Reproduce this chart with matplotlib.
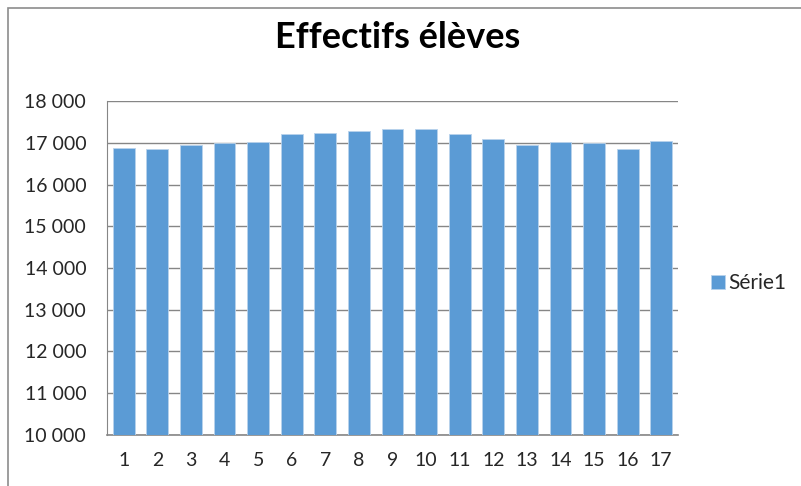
import matplotlib.pyplot as plt
from matplotlib.patches import Rectangle
from matplotlib.ticker import FuncFormatter

categories = [str(i) for i in range(1, 18)]
serie1 = [16880, 16860, 16950, 17000, 17030, 17220, 17245, 17290, 17340,
          17340, 17220, 17080, 16950, 17030, 17000, 16860, 17055]
y_ticks = [10000, 11000, 12000, 13000, 14000, 15000, 16000, 17000, 18000]

bar_color = "#5b9bd5"
grid_color = "#868686"
text_color = "#262626"
font = ["Lato", "DejaVu Sans"]

fig = plt.figure(figsize=(8.01, 4.86), dpi=100)
ax = fig.add_axes([0.1336, 0.105, 0.7128, 0.687])

x = list(range(len(categories)))
ax.bar(x, serie1, width=0.65, color=bar_color, edgecolor="#b8d2ec",
       linewidth=0.6, label="Série1", zorder=3)

ax.set_ylim(y_ticks[0], y_ticks[-1])
ax.set_xlim(-0.5, len(categories) - 0.5)
ax.set_yticks(y_ticks)
ax.yaxis.set_major_formatter(FuncFormatter(lambda v, p: f"{int(v):,}".replace(",", " ")))
ax.set_xticks(x)
ax.set_xticklabels(categories)

ax.yaxis.grid(True, color=grid_color, linewidth=1.0, zorder=0)
ax.set_axisbelow(True)
for side in ("top", "right"):
    ax.spines[side].set_visible(False)
ax.spines["left"].set_color(grid_color)
ax.spines["bottom"].set_color(grid_color)
ax.spines["bottom"].set_linewidth(1.2)
ax.tick_params(axis="both", length=0, colors=text_color, labelsize=14)
ax.tick_params(axis="y", pad=15)
ax.tick_params(axis="x", pad=12)
for lbl in ax.get_xticklabels() + ax.get_yticklabels():
    lbl.set_family(font)

fig.text(0.497, 0.922, "Effectifs élèves", ha="center", va="center",
         fontsize=26, fontweight="bold", family=font, color="black")

leg = ax.legend(loc="center left", bbox_to_anchor=(1.025, 0.455), frameon=False,
                handlelength=0.65, handleheight=0.65, handletextpad=0.2,
                prop={"family": font, "size": 15})
for t in leg.get_texts():
    t.set_color(text_color)

# chart area border
fig.patches.append(Rectangle((8 / 801, -0.01), 1.0, 1 - 8 / 486 + 0.01,
                             transform=fig.transFigure, fill=False,
                             edgecolor="#8c8c8c", linewidth=1.2))

fig.savefig("out.png", dpi=100)
